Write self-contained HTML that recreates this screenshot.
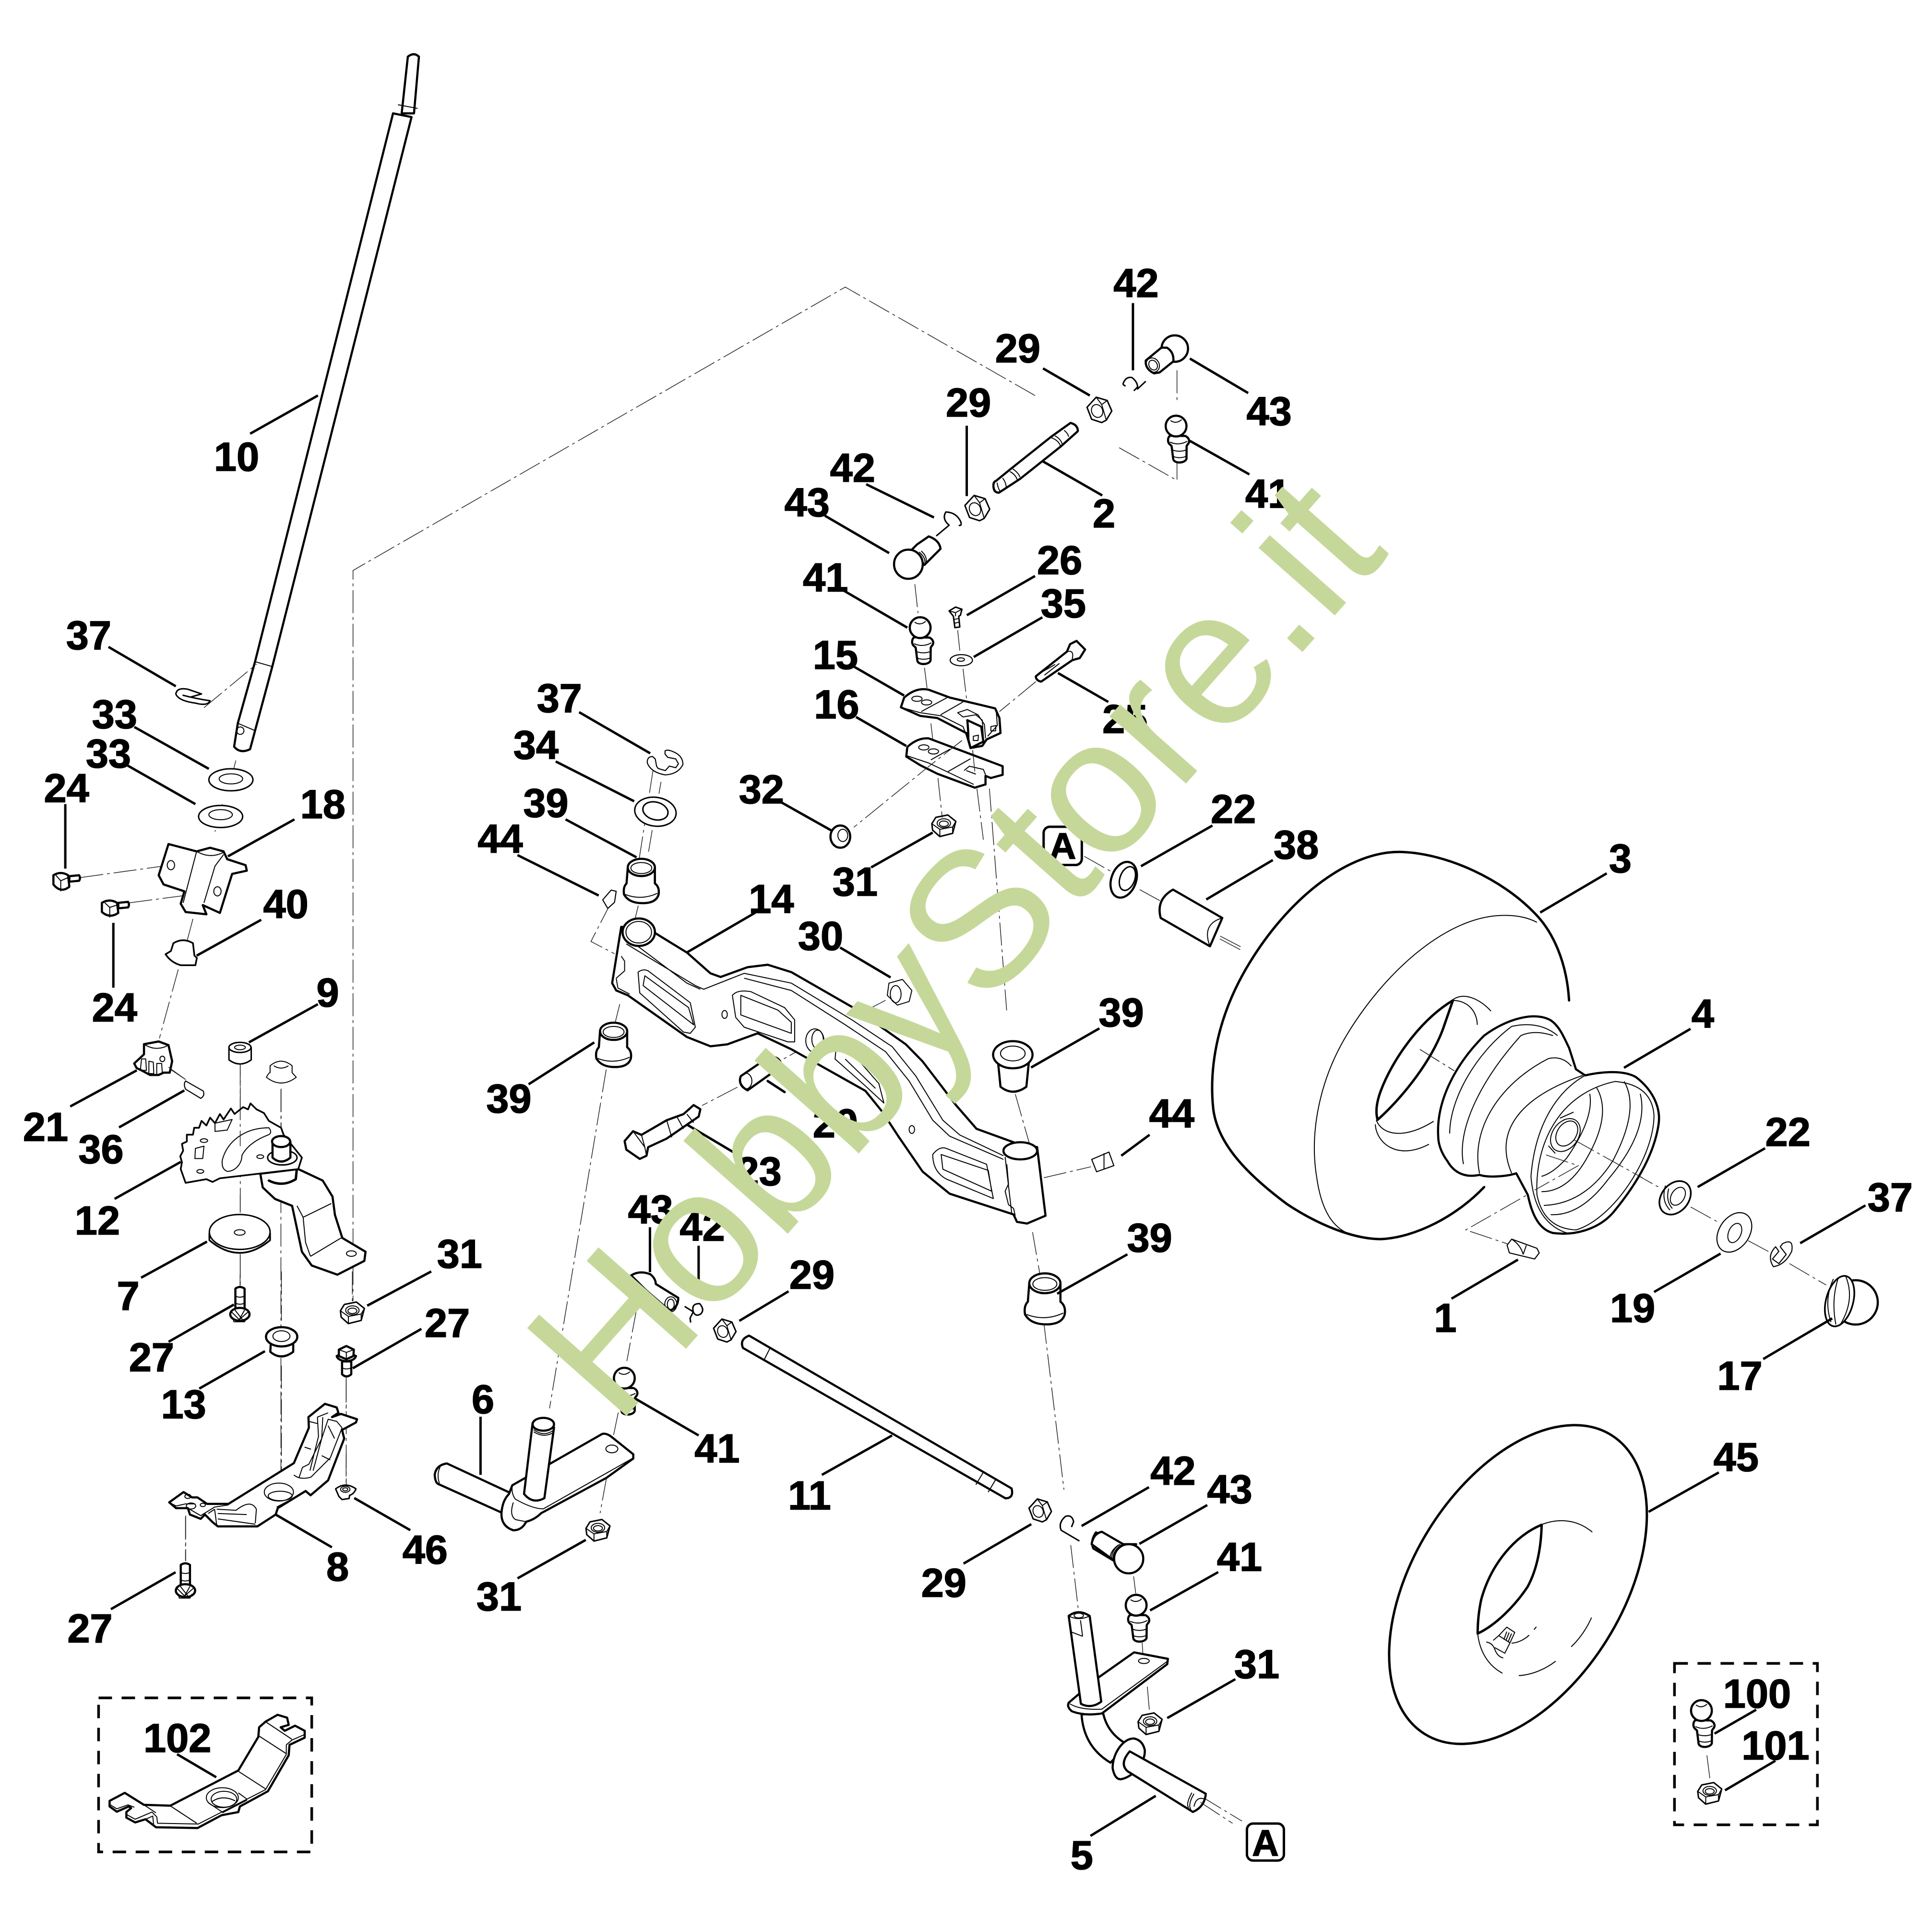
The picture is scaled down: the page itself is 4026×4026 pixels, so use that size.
<!DOCTYPE html>
<html><head><meta charset="utf-8"><title>Steering parts diagram</title>
<style>
html,body{margin:0;padding:0;background:#fff}
svg{display:block}
svg *{vector-effect:non-scaling-stroke}
.k{fill:#fff;stroke:#000;stroke-width:4.5;stroke-linejoin:round;stroke-linecap:round}
.o{fill:none;stroke:#000;stroke-width:5;stroke-linejoin:round;stroke-linecap:round}
.n{fill:none;stroke:#000;stroke-width:2;stroke-linejoin:round}
.c{fill:none;stroke:#000;stroke-width:3;stroke-linejoin:round}
.w{fill:#fff;stroke:#000;stroke-width:2.2;stroke-linejoin:round}
.m{fill:#fff;stroke:#000;stroke-width:3;stroke-linejoin:round}
.d{fill:none;stroke:#222;stroke-width:1.5;stroke-dasharray:48 8 6 8}
.l{fill:none;stroke:#000;stroke-width:5}
.b{fill:none;stroke:#000;stroke-width:5.5;stroke-dasharray:28 20}
text{font-family:"Liberation Sans",Arial,sans-serif;font-weight:700;font-size:33px;text-anchor:middle;fill:#000;stroke:#000;stroke-width:1.6px}
.wm{font-weight:400;font-size:156.5px;text-anchor:start;fill:#c5d89a;stroke:none}
</style></head>
<body>
<svg xmlns="http://www.w3.org/2000/svg" width="4026" height="4026" viewBox="0 0 1568 1568">
<rect width="1568" height="1568" fill="#fff"/>
<defs>
<g id="nutA"><path class="m" d="M-75,-15L-50,-55L25,-70L75,-30L55,45L-25,65L-70,25Z"/><path class="n" d="M-75,-15L-25,20L55,5L75,-30M-25,20L-25,65M55,5L55,45"/><ellipse class="n" cx="0" cy="-18" rx="42" ry="28"/><ellipse class="n" cx="0" cy="-15" rx="28" ry="17"/></g>
<g id="nutB"><path class="m" d="M-65,-15L-15,-70L45,-52L70,5L40,55L15,68L-40,50Z"/><path class="n" d="M-15,-70L15,-30L45,-52M15,-30L40,55"/><ellipse class="n" cx="-10" cy="5" rx="30" ry="36" transform="rotate(-25 -10 5)"/></g>
<g id="stud"><path class="k" d="M-38,60C-55,75 -55,105 -35,118L-28,125L-18,205C-15,235 55,235 65,205L66,125L72,115C88,100 85,75 58,62Z"/><path class="n" d="M-38,100Q15,125 70,95M-22,150Q20,165 62,150M-18,190Q20,205 62,190"/><circle class="k" cx="0" cy="0" r="65"/><path class="n" d="M-35,-35Q0,-10 35,-40"/></g>
<g id="bushB"><path class="k" d="M-11,-10L-12,3Q-15,6 -14,12Q-10,19 1,19Q12,19 14,12Q15,6 11,3L11,-10Z"/><ellipse class="k" cx="0" cy="-10" rx="11" ry="7"/><ellipse class="n" cx="0" cy="-9.5" rx="8.5" ry="4.5"/><path class="n" d="M-13,12Q0,17 13,11"/></g>
<g id="bushT"><path class="k" d="M-12,-6L-10,14Q0,22 11,14L13,-6Z"/><ellipse class="k" cx="0" cy="-12" rx="16" ry="11"/><ellipse class="n" cx="0" cy="-13" rx="10" ry="6"/></g>
</defs>

<!-- dash-dot axes -->
<g>
<path class="d" d="M840,321L686,233L286.5,463L286.5,1056"/>
<path class="d" d="M228,884L228,1200M195,855L195,1045M150.7,1230L150.7,1267M281,1118L281,1205"/>
<path class="d" d="M880,695L903,708M925,722L945,733M990,762L1007,771"/>
<path class="d" d="M530,625L518,702M518,735L512,760M503,815L498,835M492,868L446,1143"/>
<path class="d" d="M847,1072L863.5,1209M869,1254L875,1305"/>
<path class="d" d="M803,640L817,820M824,888L836,930M838,1000L845,1040"/>
<path class="d" d="M975,1458L1008,1478"/>
</g>
<!-- Z9 dashes -->
<g transform="translate(759.3,253.1) scale(.149)">
<path class="d" d="M1000,740L1315,918L1315,815M1315,318L1315,490"/>
</g>

<!-- Shaft 10 -->
<path class="k" d="M331,46Q336,42 340,46L336,92L326,92Z"/>
<path class="k" d="M319,92L334,95L221,541L207,593L203,608Q195,612 190,606L193,587L207,537Z"/>
<path class="n" d="M207,537L221,541M193,587L207,593M323,85L339,88"/>
<circle class="n" cx="195" cy="593" r="3"/>

<!-- Z4 left assembly -->
<g transform="translate(19.5,486.8) scale(.1987,.3726)">
<path class="d" d="M735,235L950,140M865,350L835,415M810,445L780,505M690,695L665,745M630,805L553,955M230,605L595,578M430,660L785,635M590,1020L660,1045"/>
<path class="c" d="M620,205Q625,190 670,195L725,205L680,212L650,208Q700,215 760,220Q750,232 700,225Q630,220 620,205Z"/>
<ellipse class="m" cx="845" cy="392" rx="90" ry="24"/><ellipse class="n" cx="845" cy="390" rx="48" ry="11"/>
<ellipse class="m" cx="803" cy="472" rx="90" ry="24"/><ellipse class="n" cx="803" cy="468" rx="48" ry="11"/>
<path class="k" d="M590,532L550,600L570,620L655,635L640,662L660,680L745,685L730,665L800,682L850,597L910,590L905,578L830,565L815,548L760,540L705,548Z"/>
<path class="n" d="M705,548L650,660M815,555L780,580L735,660M705,548Q760,565 815,550"/>
<ellipse class="n" cx="600" cy="578" rx="15" ry="10"/><ellipse class="n" cx="790" cy="635" rx="15" ry="10"/>
<path class="k" d="M120,600Q150,590 180,600L185,625Q150,640 120,620Z"/><path class="n" d="M130,600L150,612L180,605M150,612L150,635"/>
<path class="k" d="M185,602L225,600Q232,606 225,612L185,614Z"/>
<path class="k" d="M318,660Q350,650 380,660L385,682Q350,695 318,680Z"/><path class="n" d="M330,660L350,670L380,665M350,670L350,692"/>
<path class="k" d="M385,660L425,658Q432,664 425,670L385,672Z"/>
<path class="k" style="stroke-width:3.5" d="M610,748L600,765L578,772Q600,790 640,796L700,796L706,780L696,775L690,748Q650,735 610,748Z"/>
<path class="k" d="M450,1010L490,990L490,968L550,962L590,970L605,1005L595,1030L570,1030L550,1035L515,1035L480,1025L460,1020Z"/>
<path class="n" d="M490,968Q540,985 590,970M480,1000L475,1025L500,1025L497,1000ZM510,1005L510,1032L530,1032L528,1007ZM542,1010L542,1035L565,1030L562,1010Z"/>
<ellipse class="n" cx="565" cy="1000" rx="10" ry="6"/>
<path class="d" d="M590,1018L660,1045"/>
<path class="w" d="M660,1048L732,1070Q740,1080 722,1086L660,1066Q650,1055 660,1048Z"/>
<path class="m" d="M837,975L837,1002Q882,1020 928,1002L928,975Z"/><ellipse class="m" cx="882" cy="975" rx="45" ry="11"/><ellipse class="n" cx="882" cy="975" rx="22" ry="5"/>
<path class="n" d="M990,1040Q1000,1030 1005,1030L1005,1015Q1050,995 1095,1015L1095,1030L1112,1040Q1050,1065 990,1040ZM1020,1015Q1050,1025 1080,1015"/>
<path class="d" d="M1050,1065L1050,1160"/>
<!-- arm under sector -->
<path class="k" d="M965,1250L975,1280L1025,1305L1095,1320L1115,1370L1135,1420L1175,1450L1280,1470L1390,1440L1395,1420L1300,1390L1270,1340L1260,1300L1220,1265L1120,1240Z"/>
<path class="n" d="M1140,1345L1255,1315M1170,1430L1295,1390M1115,1320L1140,1345L1150,1400L1170,1430"/>
<ellipse class="n" cx="1337" cy="1424" rx="20" ry="6"/>
<path class="o" d="M1000,1265Q1055,1280 1110,1262L1115,1235"/>
<!-- sector -->
<path class="k" style="stroke-width:3.5" d="M660,1270L650,1255L640,1240L645,1225L638,1212L650,1200L645,1185L665,1180L665,1165L690,1165L695,1150L715,1150L725,1135L745,1145L760,1128L780,1140L800,1120L815,1132L845,1108L860,1120L895,1105L915,1110L925,1097L950,1110L980,1118L1000,1135L1050,1150L1060,1165L1135,1215L1120,1240L960,1250L800,1260L770,1268L745,1262Z"/>
<path class="n" d="M810,1220C830,1180 900,1150 1000,1150Q1015,1160 1000,1165C950,1175 910,1190 890,1210C890,1230 860,1245 830,1245Q805,1240 810,1220Z"/>
<path class="n" d="M700,1195L735,1190L730,1217L698,1217ZM780,1140L850,1132L830,1155L780,1158Z"/>
<ellipse class="n" cx="735" cy="1178" rx="15" ry="4"/><ellipse class="n" cx="720" cy="1245" rx="14" ry="4"/><ellipse class="n" cx="965" cy="1213" rx="14" ry="4"/>
<ellipse class="m" cx="1055" cy="1215" rx="60" ry="16"/>
<path class="k" d="M1015,1180L1015,1215Q1050,1232 1088,1215L1088,1180Z"/><ellipse class="k" cx="1050" cy="1180" rx="37" ry="12"/>
<path class="d" d="M883,1010L883,1190M883,1295L883,1335M883,1425L883,1495"/>
<path class="k" style="stroke-width:3.5" d="M757,1380L757,1395Q880,1450 1005,1395L1005,1380Z"/>
<ellipse class="m" cx="881" cy="1377" rx="124" ry="38"/><ellipse class="n" cx="881" cy="1378" rx="22" ry="6"/>
</g>

<!-- Z5 lower left -->
<g transform="translate(116.8,1031.9) scale(.17385)">
<path class="d" d="M642,0L642,230M642,440L642,980M973,0L973,150M944,505L944,640M944,850L944,985M194,1145L194,1350M449,15L449,70"/>
<path class="k" d="M427,80Q448,65 470,80L470,185L427,185Z"/><path class="n" d="M427,115Q448,125 470,115M427,148Q448,158 470,148"/>
<ellipse class="k" cx="448" cy="200" rx="45" ry="30"/><path class="n" d="M410,190L445,225M425,180L460,225M470,180L445,225M485,190L445,225"/>
<path class="n" d="M415,215L420,235L470,235L480,215"/>
<path class="k" d="M592,340L590,375Q640,418 697,375L697,340Z"/><ellipse class="k" cx="643" cy="305" rx="73" ry="45"/><ellipse class="n" cx="642" cy="302" rx="40" ry="25"/><path class="n" d="M575,325Q640,370 712,325"/>
<path class="k" d="M925,420L925,480Q945,500 968,480L968,420Z"/><path class="n" d="M925,450Q945,460 968,450"/>
<path class="k" d="M900,395Q945,370 990,395Q985,415 945,420Q905,415 900,395Z"/>
<path class="k" d="M910,365L945,348L980,365L978,395L945,410L910,395Z"/><path class="n" d="M910,365L945,378L980,365M945,378L945,410"/>
<path class="k" d="M118,1078L185,1030L225,1055L250,1055L295,1085L395,1085L700,895L770,730L768,680L845,618L900,635L908,660L878,680L920,665L995,690L990,705L925,740L935,780L860,975L778,1045L755,1025L625,1105L615,1135L530,1190L345,1190L320,1170L285,1135L265,1155L215,1135L205,1105L150,1105Z"/>
<path class="n" d="M118,1078L150,1095L195,1085L240,1085M205,1105L265,1140L330,1100L395,1090"/>
<path class="n" d="M700,950Q730,975 780,960L870,870L925,730L900,700L860,690L830,780L770,900L740,915L725,960"/>
<path class="n" d="M775,930L815,770L810,680L860,660M790,930L830,780L835,680M830,860L870,880M750,820L780,830M770,700L810,710M860,720L890,780"/>
<path class="n" d="M620,1100L760,1025M340,1110L430,1115Q500,1060 525,1110L520,1175M345,1130L480,1135M345,1155L520,1180M330,1110L340,1185M300,1130L330,1110"/>
<ellipse class="n" cx="630" cy="1030" rx="68" ry="42"/><ellipse class="n" cx="636" cy="1048" rx="56" ry="22"/>
<ellipse class="n" cx="220" cy="1095" rx="22" ry="14"/><ellipse class="n" cx="205" cy="1050" rx="14" ry="10"/><ellipse class="n" cx="275" cy="1090" rx="12" ry="8"/>
<path class="k" style="stroke-width:3" d="M895,1015Q940,980 990,1015Q980,1040 960,1045L958,1060L925,1065L910,1050Z"/><ellipse class="n" cx="940" cy="1017" rx="22" ry="14"/><ellipse class="n" cx="940" cy="1017" rx="12" ry="7"/>
<path class="k" d="M172,1370Q193,1355 215,1370L215,1475L172,1475Z"/><path class="n" d="M172,1405Q193,1415 215,1405M172,1440Q193,1450 215,1440"/>
<ellipse class="k" cx="194" cy="1490" rx="45" ry="30"/><path class="n" d="M155,1480L190,1515M170,1470L205,1515M215,1470L190,1515M230,1480L190,1515"/>
<path class="n" d="M160,1505L165,1525L215,1525L225,1505"/>
</g>

<!-- Nuts -->
<use href="#nutA" transform="translate(766,670.5) scale(.1298)"/>
<use href="#nutA" transform="translate(286,1065.8) scale(.1298)"/>
<use href="#nutA" transform="translate(485.3,1242.3) scale(.1298)"/>
<use href="#nutA" transform="translate(933.4,1399.3) scale(.1298)"/>
<use href="#nutB" transform="translate(891.9,332.8) scale(.149)"/>
<use href="#nutB" transform="translate(792.8,412.5) scale(.149)"/>
<use href="#nutB" transform="translate(587.9,1080) scale(.135)"/>
<use href="#nutB" transform="translate(843.9,1226) scale(.135)"/>

<!-- Studs -->
<use href="#stud" transform="translate(922.1,1302.8) scale(.1298)"/>
<use href="#stud" transform="translate(746.8,509.4) scale(.1298)"/>
<use href="#stud" transform="translate(954.5,345.8) scale(.1298)"/>
<use href="#stud" transform="translate(506.7,1118.5) scale(.1298)"/>

<!-- Bushes -->
<use href="#bushB" transform="translate(520.5,714)"/>
<use href="#bushB" transform="translate(498,847)"/>
<use href="#bushT" transform="translate(822,868)"/>
<use href="#bushB" transform="translate(848,1053) scale(1.15)"/>

<!-- Z11 clip & washer 34 -->
<g transform="translate(467.3,545.2) scale(.1298)">
<path class="d" d="M533,688L520,762M478,990L455,1125"/>
<path class="w" d="M558,495Q575,482 620,505Q670,530 670,580Q640,640 560,645Q470,630 447,570Q445,530 480,530L497,545L505,590L515,605L560,618L585,590L625,600L642,575L625,545L575,535L558,515Z"/>
<ellipse class="m" cx="498" cy="875" rx="130" ry="90" transform="rotate(8 498 875)"/>
<ellipse class="m" cx="498" cy="870" rx="80" ry="55" transform="rotate(15 498 870)"/>
</g>

<!-- Z2 arm 14 -->
<g transform="translate(467.3,720.4) scale(.2733,.1987)">
<path class="d" d="M105,60L45,220L115,270M920,460L865,500M695,640L610,705M480,815L375,890M1390,1185L1530,1140"/>
<path class="k" d="M135,160L108,390L120,420L155,440L330,610L400,648L450,640L540,595L640,660L860,830L910,915L960,1020L1030,1160L1110,1250L1300,1335L1310,1365L1340,1372L1395,1340L1370,1060L1310,1045L1190,985L1130,890L1030,710L980,640L830,495L640,345L570,315L510,325L430,365L400,350L330,265L235,185Z"/>
<path class="n" d="M150,230L355,400L380,415L500,350L640,390L820,540L940,650L1010,770L1090,950L1140,1010L1270,1095M180,235L330,390L370,415M500,370L640,420L800,560L920,670L990,790L1060,950L1110,1015L1270,1110"/>
<path class="n" d="M120,370L145,340L145,300L135,280M120,370L125,410L160,435"/>
<path class="n" d="M185,345Q200,330 215,340L340,470L355,570L340,595L320,590L190,430ZM205,360L335,490L350,560L200,400Z"/>
<path class="n" d="M465,440Q480,415 520,425L620,490L650,540L650,630L630,630L500,570L475,530ZM490,440L600,500L640,550L640,595L520,535L490,520Z"/>
<path class="n" d="M775,625L830,690L900,800L915,880L860,810L770,700ZM800,700L890,820"/>
<path class="n" d="M1060,1090Q1080,1055 1100,1065L1220,1130L1240,1270L1100,1190Q1060,1160 1060,1090ZM1085,1090L1225,1155L1235,1240L1090,1150Z"/>
<ellipse class="n" cx="442" cy="518" rx="8" ry="16"/><ellipse class="n" cx="998" cy="988" rx="8" ry="16"/>
<ellipse class="n" cx="710" cy="625" rx="27" ry="48"/><ellipse class="n" cx="718" cy="620" rx="17" ry="38"/>
<path class="n" d="M1275,1100L1295,1335M1280,1130L1285,1210L1275,1240L1285,1295L1300,1310L1305,1340"/>
<ellipse class="k" cx="187" cy="182" rx="48" ry="56"/><ellipse class="n" cx="187" cy="182" rx="38" ry="44"/>
<ellipse class="k" cx="1320" cy="1075" rx="50" ry="35"/>
<path class="k" d="M575,690L490,770Q480,805 510,828L610,730Q610,690 575,690Z"/><ellipse class="n" cx="505" cy="790" rx="18" ry="32"/>
<path class="o" d="M570,790L620,835"/>
<path class="k" d="M350,888L370,905L365,935L270,1025L215,1060L210,1095L190,1108L150,1070L145,1035L170,995L195,1010L270,950L320,925Z"/>
<path class="n" d="M170,995L205,1060L210,1095M195,1010L205,1060M270,950L285,1020M300,935L320,985M330,925L350,960"/>
<path class="n" d="M930,390L970,375L998,420L990,465L955,480L925,440Z"/><ellipse class="n" cx="950" cy="435" rx="16" ry="35"/>
<path class="w" d="M80,50L105,10L120,15L115,60L95,85Z"/>
</g>
<path class="w" d="M886,941L900,935L904,946L890,951Z"/>
<path class="n" d="M896,936L896,949"/>

<!-- Z3 tire -->
<g transform="translate(973.5,681.5) scale(.3726,.2484)">
<path class="d" d="M45,315L90,350M480,685L555,755M815,980L1000,1135M1070,1200L1130,1250M1195,1310L1245,1350M1285,1385L1365,1455M755,1030L825,1065L580,1275L680,1325"/>
<path class="o" d="M805,525C800,400 770,300 730,240C660,130 540,45 440,40C330,35 200,180 110,400C40,570 20,740 30,880C40,1000 110,1100 190,1190C250,1250 330,1305 395,1305C470,1300 560,1230 620,1135"/>
<path class="n" d="M735,270C710,250 680,245 650,248C530,260 400,440 320,640C260,790 240,960 255,1100C265,1210 290,1270 330,1290"/>
<path class="o" d="M552,525C480,590 420,720 395,820C385,860 383,890 388,915C430,860 500,740 530,620L552,525"/>
<path class="n" d="M550,525C575,495 610,520 635,560M550,525C590,525 605,570 605,605M385,915C395,960 440,985 510,920M383,930C385,990 430,1050 500,995"/>
<path class="d" d="M480,685L555,755"/>
<path class="k" d="M520,970C515,850 560,730 620,640C670,585 730,560 765,590C785,610 795,650 805,680L820,750L840,770C870,760 920,750 950,775C990,820 1005,880 1000,930C990,1030 950,1130 900,1220C870,1270 820,1295 770,1285C730,1270 720,1190 715,1160L690,1090C670,1100 630,1105 610,1095C580,1105 555,1090 540,1050C530,1030 520,1000 520,970Z"/>
<path class="n" d="M545,960C545,850 600,700 680,610Q740,590 780,640M575,1060C560,950 610,790 700,640Q730,620 770,640M610,1090C590,950 650,800 760,715Q790,705 810,740M680,1090C640,950 700,840 835,770M840,770C770,830 730,950 722,1100Q730,1250 800,1285"/>
<path class="n" d="M905,790C780,830 730,1000 735,1160Q750,1270 820,1275C900,1240 990,1040 990,900Q985,800 905,790Z"/>
<path class="n" d="M865,810Q900,900 840,1050Q800,1150 745,1150M925,790Q960,880 900,1050Q840,1190 750,1195M960,830Q980,950 890,1110Q830,1230 765,1225M850,830Q860,910 800,1040Q770,1090 745,1100"/>
<ellipse class="n" cx="797" cy="965" rx="30" ry="55" transform="rotate(15 797 965)"/><ellipse class="n" cx="800" cy="960" rx="22" ry="42" transform="rotate(15 800 960)"/>
<path class="n" d="M760,1000L775,1025M785,910L815,890"/>
<path class="d" d="M755,1030L825,1065L730,1145"/>
<path class="d" d="M815,980L965,1105"/>
<ellipse class="k" style="stroke-width:3.5" cx="1036" cy="1170" rx="32" ry="56" transform="rotate(15 1036 1170)"/><ellipse class="n" cx="1042" cy="1165" rx="15" ry="30" transform="rotate(15 1042 1165)"/><path class="n" d="M1015,1130Q1005,1180 1025,1210M1022,1140Q1015,1180 1030,1205"/>
<ellipse class="w" cx="1165" cy="1283" rx="35" ry="66" transform="rotate(15 1165 1283)"/><ellipse class="n" cx="1166" cy="1285" rx="14" ry="32" transform="rotate(12 1166 1285)"/>
<path class="w" d="M1270,1320Q1295,1300 1290,1345Q1275,1390 1250,1395Q1235,1360 1255,1330L1262,1345L1248,1370L1262,1385L1278,1355L1265,1330Z"/>
<path class="w" d="M680,1305L735,1335L740,1350L730,1370L675,1350L670,1325Z"/><path class="n" d="M680,1305Q700,1325 705,1355M712,1325L705,1355"/>
</g>

<!-- Cap 17 -->
<g>
<ellipse class="k" cx="1506" cy="1057" rx="18" ry="18"/>
<ellipse class="k" style="stroke-width:3.5" cx="1493" cy="1056" rx="11" ry="21" transform="rotate(15 1493 1056)"/>
<path class="n" d="M1498,1036Q1506,1055 1493,1076M1488,1038Q1480,1055 1486,1073M1492,1037Q1486,1055 1490,1075"/>
</g>

<!-- 22 seal + 38 spacer -->
<ellipse class="k" cx="912" cy="714" rx="10" ry="15" transform="rotate(20 912 714)"/><ellipse class="c" cx="915" cy="713" rx="6" ry="10" transform="rotate(20 915 713)"/>
<path class="k" d="M952,722L992,745L982,768L942,745Q938,730 952,722Z"/>
<path class="n" d="M992,745Q975,750 982,768"/>
<!-- flange nut 32 -->
<ellipse class="k" cx="682" cy="679" rx="8" ry="9"/><ellipse class="n" cx="684" cy="678" rx="4" ry="5"/>

<!-- Rod 11 -->
<path class="k" d="M608,1084L821,1208Q823,1216 816,1216L603,1094Q600,1087 608,1084Z"/>
<path class="n" d="M625,1094L620,1104M798,1195L792,1205M808,1201L802,1211"/>

<!-- Tube 45 -->
<ellipse class="o" cx="1232" cy="1286" rx="85" ry="143" transform="rotate(32 1232 1286)"/>
<g transform="translate(1148.9,1207.4) scale(.1298)">
<path class="o" d="M788,232C620,300 470,480 410,700C395,770 388,850 388,912C500,860 620,740 700,620C760,510 785,370 788,232Z"/>
<path class="n" d="M790,230C880,195 1000,190 1105,278M388,912C400,1020 450,1110 543,1160M645,1175C730,1170 810,1135 876,1085M973,995C1030,940 1070,880 1100,812M600,972C640,970 680,950 710,922M740,888L755,870"/>
<path class="n" d="M570,872L620,905L590,970L520,925ZM520,925L485,955M590,970L558,1035L495,1000M442,965Q480,970 495,1010Q510,1055 548,1065M570,900L552,950M585,905L565,955M600,912L580,960"/>
</g>

<!-- Z6 spindle 6 -->
<g transform="translate(334.9,1012.5) scale(.17385)">
<path class="d" d="M1045,290L1000,530M960,770L935,890M905,1075L875,1240"/>
<path class="k" d="M160,1008Q110,1015 103,1060Q105,1100 122,1105L410,1235L470,1200L455,1145Z"/>
<path class="n" d="M130,1020Q110,1060 125,1100"/>
<path class="k" d="M465,1110L640,1010L885,870Q905,865 930,885L1030,965L1030,985L905,1075L600,1240Q570,1270 530,1280Q510,1320 470,1320Q410,1300 415,1235Q420,1180 450,1150Z"/>
<path class="n" d="M1025,985L610,1220Q560,1220 480,1175Q460,1150 465,1110M470,1190Q450,1250 480,1270L530,1280"/>
<ellipse class="n" cx="930" cy="940" rx="28" ry="18"/>
<path class="k" d="M560,820L520,1150Q560,1200 615,1170L660,840Z"/><ellipse class="k" cx="610" cy="825" rx="50" ry="30"/><path class="n" d="M565,850Q610,885 655,855M565,860Q610,890 655,865"/>
<path class="k" d="M1020,130Q1060,105 1110,125Q1135,145 1135,170L1240,235Q1240,280 1200,295L1090,200Z"/><ellipse class="n" cx="1205" cy="265" rx="28" ry="35"/><ellipse class="n" cx="1205" cy="265" rx="16" ry="24"/>
<path class="c" d="M1270,275L1310,300Q1300,260 1340,262Q1365,290 1345,310Q1320,325 1310,300L1295,330L1298,350"/>
</g>

<!-- Z7 spindle 5 -->
<g transform="translate(817.8,1207.2) scale(.17385)">
<path class="d" d="M588,415L598,495M628,725L632,785M652,930L662,1045"/>
<path class="c" d="M335,250L250,200Q235,165 270,135Q300,125 308,160L298,185"/>
<path class="k" d="M412,210L540,265L600,265L500,345L400,285Q385,250 412,210Z"/>
<path class="k" d="M345,1060Q355,1210 480,1285L560,1200Q465,1150 445,1050Z"/>
<path class="k" d="M590,770L748,800L745,825L440,1055Q360,1068 300,1045Q275,1025 285,1005L420,890Z"/>
<path class="n" d="M290,1010Q340,1040 440,1035L745,812"/>
<ellipse class="n" cx="636" cy="810" rx="25" ry="12"/>
<path class="k" d="M285,600Q330,565 383,600L437,1000Q390,1035 342,1010Z"/>
<path class="n" d="M285,600Q330,625 383,600M340,620L350,695M298,675L350,695"/>
<ellipse class="n" cx="332" cy="598" rx="22" ry="11"/>
<path class="k" d="M590,1172C540,1170 490,1240 490,1310Q500,1365 530,1362C590,1350 645,1280 640,1225Q630,1180 590,1172Z"/>
<path class="k" d="M570,1232L925,1430Q920,1490 865,1515L560,1325Q520,1290 570,1232Z"/>
<path class="n" d="M860,1425Q830,1480 845,1495M870,1430Q840,1480 855,1503M920,1455Q880,1440 870,1490"/>
<path class="d" d="M900,1470L1050,1568"/>
<path class="k" d="M440,207Q400,215 392,265L495,340Q490,295 540,265Z"/>
<path class="n" d="M525,265Q485,290 485,335M518,268Q480,295 478,328"/>
<circle class="k" cx="565" cy="333" r="68"/>
</g>

<!-- Z8 brackets -->
<g transform="translate(642.5,408.9) scale(.17385)">
<path class="d" d="M575,375L590,510M620,765L632,860M650,1025L660,1110M683,1280L703,1465M775,590L785,685M800,770L820,940M845,1150L855,1250M865,1330L895,1568M1140,830L970,970M795,1105L635,1230L290,1510"/>
<path class="c" d="M675,150L735,100Q700,70 720,38Q770,40 790,85Q795,105 780,100"/>
<path class="k" d="M585,190L640,152Q690,170 695,210L620,285L560,215Z"/><path class="n" d="M595,225Q625,250 622,275M605,220Q632,245 628,270"/>
<ellipse class="k" cx="545" cy="282" rx="67" ry="68"/>
<path class="k" style="stroke-width:3" d="M735,500L765,482L795,492L788,520L780,525L785,575L762,578L755,525Z"/><path class="n" d="M735,500L765,508L795,492M765,508L765,525M756,540L782,535M758,558L784,552"/>
<ellipse class="w" cx="792" cy="730" rx="52" ry="26"/><ellipse class="n" cx="790" cy="727" rx="17" ry="8"/>
<path class="k" d="M1300,655L1330,640L1370,680L1345,720L1310,730L1165,830Q1140,825 1140,805L1285,690Z"/><path class="n" d="M1160,790L1230,750M1180,800L1250,745M1285,690Q1320,680 1310,725"/>
<path class="k" d="M525,905Q580,855 640,868L740,905L950,955L970,1000L975,1070L910,1100L890,1130L835,1140L815,1070L680,1000L600,990L510,950Z"/>
<path class="n" d="M510,950L600,975L700,990L800,1040L830,1120L895,1100M605,970L725,905M695,985L800,925M905,1095L900,1030L870,985L820,960L775,975L800,995L860,985L890,1010L895,1090M955,965L960,1035L915,1085"/>
<ellipse class="n" cx="585" cy="910" rx="24" ry="12"/><ellipse class="n" cx="630" cy="927" rx="24" ry="12"/>
<path class="n" d="M848,1085L872,1080L870,1105L848,1105ZM930,1040L954,1035L952,1060L930,1060Z"/>
<path class="k" d="M540,1135Q590,1090 640,1095L985,1225L985,1265L930,1280L905,1270L905,1310L855,1325L680,1260L600,1220L535,1180Z" />
<path class="n" d="M535,1175L640,1210L850,1310M650,1195L740,1145M730,1250L835,1190M805,1245L830,1225L895,1240L905,1265M815,1245L860,1262"/>
<ellipse class="n" cx="617" cy="1137" rx="24" ry="12"/><ellipse class="n" cx="662" cy="1156" rx="24" ry="12"/>
<path class="d" d="M795,1105L635,1230M845,1150L855,1250"/>
<path class="k" d="M825,1100L835,1140L895,1110L885,1040L820,1010Q825,1060 825,1100Z"/>
<path class="n" d="M848,1085L872,1080L870,1105L848,1105Z"/>
</g>

<!-- Z9 top -->
<g transform="translate(759.3,253.1) scale(.149)">
<path class="k" d="M315,945Q315,925 330,920L410,855L630,680L735,605Q775,615 775,650L680,735L460,910L345,985Q315,985 315,945Z"/>
<path class="n" d="M335,930Q340,960 350,975M365,905Q385,930 385,960M405,870Q435,885 445,915M420,855Q450,875 460,900M630,685Q670,700 680,730M650,675Q680,690 690,720M700,645Q720,660 725,680"/>
<path class="c" d="M1020,395Q1035,350 1070,358Q1105,385 1100,420L1145,378M1100,410L1080,430M1020,395L1035,405"/>
<circle class="k" cx="1303" cy="200" r="72"/>
<path class="k" d="M1230,195L1145,265Q1140,310 1190,335L1220,330L1295,270Q1300,220 1260,195Z"/>
<ellipse class="n" cx="1183" cy="290" rx="35" ry="40" transform="rotate(-30 1183 290)"/><ellipse class="n" cx="1185" cy="290" rx="22" ry="28" transform="rotate(-30 1185 290)"/>
</g>

<!-- Z10 102 -->
<g transform="translate(77.9,1370.7) scale(.1298)">
<path class="k" d="M85,700L180,650L300,725L465,730L890,510L1015,300L1020,240L1060,205L1135,162L1195,180L1205,225L1155,240L1180,262L1245,230L1305,262L1305,305L1210,350L1205,415L1075,640L900,735L890,770L785,790L635,870L375,865L310,815L245,835L190,805L190,770L220,745L205,735L130,768L85,735Z"/>
<path class="n" d="M90,725L130,750L200,725L240,740M190,785L245,815L350,770L380,800L385,840L640,845L1060,630L1190,410L1190,350L1225,320L1305,285"/>
<path class="n" d="M300,725L375,775M470,735L630,840M890,515L1060,625M1020,295L1190,405M1060,205L1225,315"/>
<path class="n" d="M310,815L355,795L360,845"/>
<ellipse class="n" cx="790" cy="680" rx="100" ry="62"/><ellipse class="n" cx="800" cy="690" rx="80" ry="50"/><path class="n" d="M725,705Q790,660 870,700"/>
<path class="n" d="M700,710L790,770M890,650L945,690M790,775L945,695"/>
</g>

<!-- Z1 100/101 -->
<g transform="translate(1343.5,1335.7) scale(.1298)">
<use href="#stud" transform="translate(288,405)"/>
<path class="d" d="M322,685L342,840"/>
</g>
<use href="#nutA" transform="translate(1387.6,1455.8) scale(.1298)"/>

<!-- dashed boxes -->
<rect class="b" x="80" y="1378" width="173" height="125"/>
<rect class="b" x="1359" y="1350" width="116" height="131"/>

<!-- A boxes -->
<rect x="847" y="671" width="31" height="31" rx="5" fill="#fff" stroke="#000" stroke-width="5"/>
<text x="862.5" y="697" style="font-size:30px">A</text>
<rect x="1012" y="1480" width="30" height="30" rx="5" fill="#fff" stroke="#000" stroke-width="5"/>
<text x="1027" y="1506" style="font-size:30px">A</text>

<!-- leaders -->
<path class="l" d="M203,352L258,321M919.5,246L919.5,300.5M846.5,299L884.5,321M965.7,291L1013,319M965.7,357.8L1014,385M784.6,345.5L784.6,402.6M703,393L758,420M669.4,418.5L721.6,448.9M846.5,374.5L894.6,402.1M684.7,479.3L736.4,509.4M784.7,499.3L840,467.5M790.3,533.2L846,501M693,541L733.8,564.5M694.7,581.9L735.5,605.4M858.6,546.2L899.5,569.7M470,578L527.7,611.4M451,618L514.7,650.3M459,665L516.6,695.8M420,694L485.9,726.8M632,650L674.7,674M707,704L757,675.7M926,703L984,670M979,730L1033,698M1250,740.6L1304,708.8M557.5,773L613,740.7M681.8,769L722.8,793.3M836.8,866.4L892.3,834.6M1318,866.6L1372,835M429,880L482.3,846M910,938L933,921"/>
<path class="l" d="M1377.8,963.4L1432.5,931.9M1461,1009L1514,978.3M1178,1054L1232,1022.3M1342.4,1048.6L1396.4,1017.4M1431,1103L1487,1070M858,1050L915,1018"/>
<path class="l" d="M558,913L595,935M527.5,996L527.5,1032.5M567,1011L567,1041M600,1072L640,1048M515.4,1135L567,1165M390,1149.8L390,1197M667,1197L724,1165M877.8,1238.5L932.5,1207M924.7,1253L979.8,1221.5M782,1269L837,1237M933.4,1307L988.7,1275.9M947.3,1394.4L1002.6,1362.8M1338,1227L1395,1195M885,1490L938,1457.5M420,1281L475.4,1249.8M1391.5,1407L1425.3,1387.6M1400,1453L1440.9,1429M143.7,1423.7L175.5,1442.4"/>
<!-- left leaders -->
<path class="l" d="M88,525L142.7,557M109,590L169.5,624M103,621L158.6,652.6M53,652.6L53,705M92,749L92,801.6M185,695L239,665M159.6,775.6L212,746.5M202,846L258,815M57,898L111,868.7M96.6,915L149.6,885M93,973L146.7,943M114.5,1037L168,1007.7M136.8,1089L189.8,1058.8M161.7,1127L215,1096.6M298,1059.7L350,1031.9M286.3,1110.5L342,1078.5M287.5,1215.8L333,1241.9M223.7,1229.2L269.4,1255.8M90,1306L142.5,1276"/>

<!-- labels -->
<g transform="translate(1,-1)">
<text x="921" y="242">42</text><text x="825" y="295">29</text><text x="1029" y="346">43</text><text x="785" y="339">29</text>
<text x="691" y="392">42</text><text x="654" y="420">43</text><text x="895" y="429">2</text><text x="1028" y="413">41</text>
<text x="669" y="481">41</text><text x="859" y="467">26</text><text x="862" y="502">35</text><text x="677" y="544">15</text>
<text x="678" y="584">16</text><text x="912" y="596">25</text><text x="453" y="579">37</text><text x="434" y="617">34</text>
<text x="442" y="664">39</text><text x="405" y="693">44</text><text x="617" y="653">32</text><text x="693" y="728">31</text>
<text x="1000" y="669">22</text><text x="1051" y="698">38</text><text x="1314" y="709">3</text><text x="625" y="742">14</text>
<text x="665" y="772">30</text><text x="909" y="834">39</text><text x="1381" y="835">4</text><text x="412" y="904">39</text>
<text x="950" y="916">44</text><text x="677" y="924">20</text><text x="615" y="963">23</text><text x="1450" y="931">22</text>
<text x="1533" y="984">37</text><text x="527" y="994">43</text><text x="569" y="1008">42</text><text x="932" y="1017">39</text>
<text x="658" y="1047">29</text><text x="1172" y="1082">1</text><text x="1324" y="1074">19</text><text x="1411" y="1129">17</text>
<text x="581" y="1188">41</text><text x="656" y="1226">11</text><text x="951" y="1206">42</text><text x="997" y="1221">43</text>
<text x="391" y="1148">6</text><text x="765" y="1297">29</text><text x="1005" y="1276">41</text><text x="1019" y="1363">31</text>
<text x="1408" y="1195">45</text><text x="877" y="1518">5</text><text x="404" y="1308">31</text>
<text x="1425" y="1387">100</text><text x="1440" y="1429">101</text><text x="143" y="1423">102</text>
<text x="191" y="383">10</text><text x="71" y="528">37</text><text x="92" y="592">33</text><text x="87" y="624">33</text>
<text x="53" y="652">24</text><text x="261" y="665">18</text><text x="231" y="746">40</text><text x="92" y="830">24</text>
<text x="265" y="818">9</text><text x="36" y="927">21</text><text x="81" y="945">36</text><text x="78" y="1003">12</text>
<text x="103" y="1064">7</text><text x="122" y="1114">27</text><text x="148" y="1152">13</text><text x="372" y="1030">31</text>
<text x="362" y="1086">27</text><text x="344" y="1270">46</text><text x="273" y="1284">8</text><text x="72" y="1334">27</text>
</g>

<!-- watermark -->
<text class="wm" transform="translate(500,1158.8) rotate(-48.5)">HobbyStore.it</text>
</svg>
</body></html>
